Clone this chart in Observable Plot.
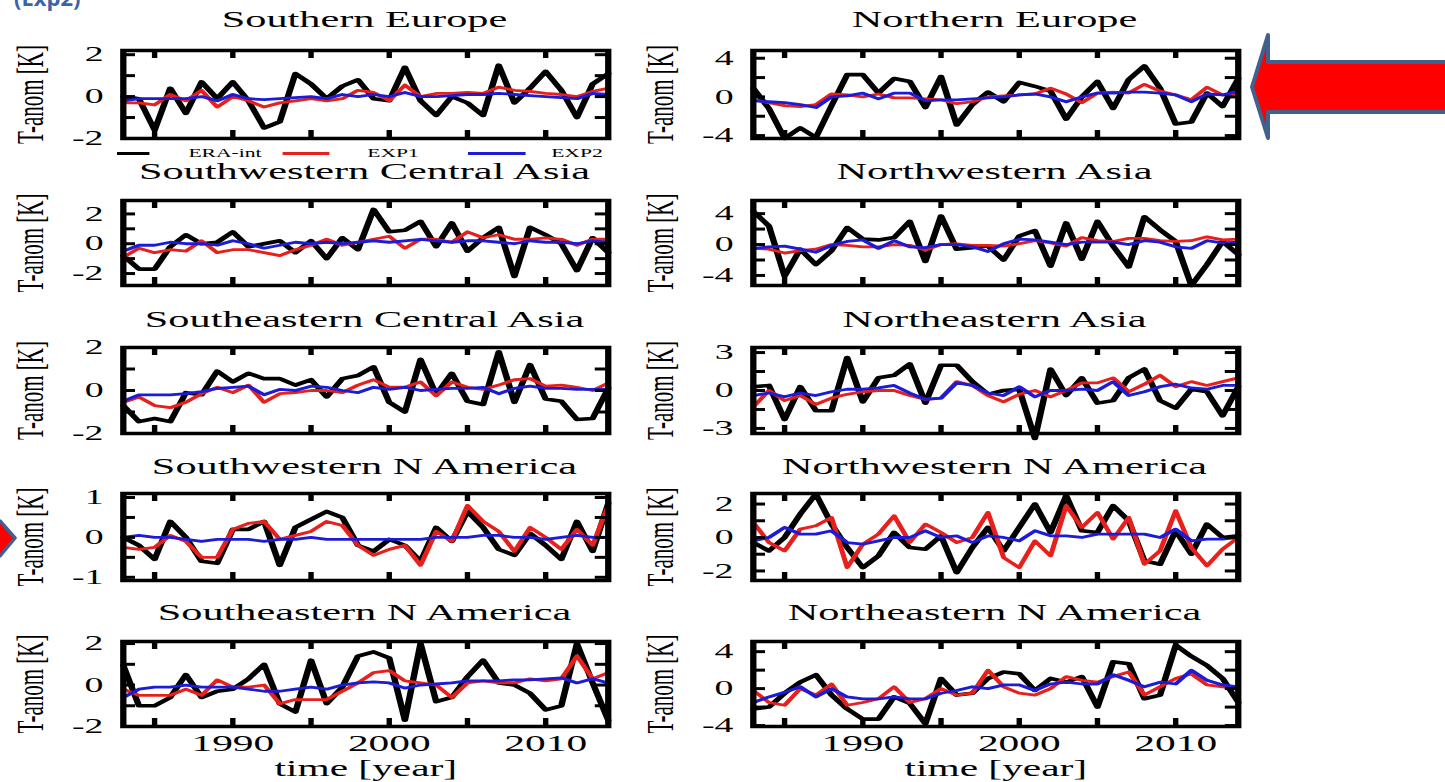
<!DOCTYPE html>
<html>
<head>
<meta charset="utf-8">
<script src="https://cdn.jsdelivr.net/npm/d3@7"></script>
<script src="https://cdn.jsdelivr.net/npm/@observablehq/plot@0.6"></script>
<style>
  html, body { margin: 0; padding: 0; background: #fff; overflow: hidden; }
  #page { position: relative; width: 1445px; height: 782px; overflow: hidden; background: #fff; }
  #stretch { position: absolute; left: 0; top: 0; width: 803px; height: 782px;
             transform: scaleX(1.8); transform-origin: 0 0;
             font-family: "Liberation Serif", "Times New Roman", serif; color: #000; }
  .title { position: absolute; white-space: nowrap; transform: translate(-50%, -50%);
           font-size: 23.5px; line-height: 1; }
  .legtext { position: absolute; white-space: nowrap; transform: translate(-50%, -50%);
             font-size: 12px; line-height: 1; }
  .legline { position: absolute; height: 0; }
  #slidetext { position: absolute; left: 14px; top: -14px; font-family: "Open Sans", sans-serif;
               font-weight: bold; font-size: 22px; line-height: 1; color: #3a63a8; white-space: nowrap; }
</style>
</head>
<body>
<div id="page">
  <div id="stretch"></div>
  <div id="slidetext">(Exp2)</div>
  <svg id="arrows" width="1445" height="782" style="position:absolute;left:0;top:0;overflow:visible">
    <path d="M1450,62 L1268,62 L1268,35 L1252,87 L1268,138 L1268,112 L1450,112 Z"
          fill="#ff0000" stroke="#41608d" stroke-width="4" stroke-linejoin="round"/>
    <path d="M-10,521 L0,521 L15,538 L0,556 L-10,556 Z"
          fill="#ff0000" stroke="#41608d" stroke-width="3.5" stroke-linejoin="round"/>
  </svg>
</div>
<script>
// ---------------- data ----------------
const years = [1983,1984,1985,1986,1987,1988,1989,1990,1991,1992,1993,1994,1995,1996,1997,1998,
               1999,2000,2001,2002,2003,2004,2005,2006,2007,2008,2009,2010,2011,2012,2013,2014];
const seriesNames = ["ERA-int", "EXP1", "EXP2"];
const panelTitles = ["Southern Europe", "Northern Europe",
                     "Southwestern Central Asia", "Northwestern Asia",
                     "Southeastern Central Asia", "Northeastern Asia",
                     "Southwestern N America", "Northwestern N America",
                     "Southeastern N America", "Northeastern N America"];
const yAxisLabel = "T-anom [K]";
const xAxisLabel = "time [year]";
const xTickYears = [1985, 1990, 1995, 2000, 2005, 2010];
const xLabelYears = [1990, 2000, 2010];
const yLabelTicks = [[-2,0,2],[-4,0,4],[-2,0,2],[-4,0,4],[-2,0,2],[-3,0,3],[-1,0,1],[-2,0,2],[-2,0,2],[-4,0,4]];
const yMinorTicks = [[-1,1],[-2,2],[-1,1],[-2,2],[-1,1],[-1.5,1.5],[-0.5,0.5],[-1,1],[-1,1],[-2,2]];
const yDomains = [[-2,2.2],[-4.3,4.8],[-2.8,2.9],[-5.3,5.7],[-2,2],[-3.4,3.4],[-1.08,1.1],[-2.57,2.63],[-2,2.1],[-4.1,5.1]];

// Southern Europe
const seEra  = [0.0,-0.1,-1.6,0.4,-0.8,0.7,-0.1,0.7,-0.2,-1.5,-1.2,1.1,0.6,-0.1,0.5,0.8,-0.1,-0.2,1.4,-0.2,-0.9,0.0,-0.3,-0.9,1.5,-0.3,0.4,1.2,0.3,-1.0,0.6,1.1];
const seExp1 = [-0.3,-0.3,-0.4,0.1,-0.2,0.3,-0.5,0.0,-0.2,-0.5,-0.3,-0.2,-0.1,-0.2,-0.1,0.3,0.2,-0.2,0.55,0.0,0.15,0.15,0.2,0.15,0.45,0.3,0.25,0.15,0.1,0.0,0.25,0.4];
const seExp2 = [-0.2,-0.1,-0.1,-0.1,-0.1,0.0,-0.2,0.1,-0.1,-0.15,-0.1,-0.05,0.0,-0.1,0.1,0.0,0.1,0.0,0.2,0.0,0.0,0.05,0.1,0.1,0.15,0.1,0.05,0.0,-0.05,-0.1,0.15,0.1];
// Northern Europe
const neEra  = [0.9,-1.2,-4.3,-3.2,-4.2,-0.9,2.3,2.3,0.4,1.9,1.6,-1.1,2.1,-2.9,-0.8,0.5,-0.5,1.5,1.1,0.6,-2.3,0.0,1.6,-1.2,1.8,3.2,0.9,-2.8,-2.6,0.4,-1.0,1.9];
const neExp1 = [-0.3,-0.6,-0.9,-1.0,-0.8,0.3,0.2,0.0,0.3,-0.1,-0.1,-0.2,-0.3,-0.7,-0.5,0.0,0.1,0.2,0.3,0.9,0.3,-0.6,0.4,0.5,0.4,1.3,0.6,0.2,-0.3,1.0,0.2,0.3];
const neExp2 = [-0.4,-0.5,-0.6,-0.8,-1.1,0.0,0.1,0.4,-0.2,0.4,0.4,-0.4,-0.3,-0.3,-0.2,-0.1,0.0,0.2,0.3,0.0,-0.5,0.0,0.4,0.4,0.5,0.5,0.4,0.2,-0.5,0.3,0.2,0.6];
// Southwestern Central Asia
const swcaEra  = [-0.8,-1.7,-1.7,-0.2,0.6,0.0,0.1,0.8,-0.2,0.0,0.2,-0.6,0.2,-1.0,0.4,-0.4,2.3,0.8,0.9,1.5,-0.2,1.4,-0.5,0.4,1.1,-2.2,1.1,0.6,0.0,-1.8,0.4,-0.6];
const swcaExp1 = [-0.9,-0.3,-0.6,-0.4,-0.5,0.2,-0.6,-0.4,-0.4,-0.6,-0.8,-0.4,-0.1,0.3,-0.1,0.1,0.3,0.5,-0.3,0.3,0.3,0.1,0.8,0.4,0.6,0.3,0.3,0.4,0.3,-0.1,0.3,0.3];
const swcaExp2 = [-0.5,-0.1,-0.1,0.1,0.0,0.0,-0.1,0.2,0.0,-0.3,-0.1,0.1,0.0,0.1,0.0,0.1,0.2,0.1,0.2,0.3,0.2,0.1,0.2,0.2,0.1,0.0,0.2,0.1,0.1,0.0,0.2,0.1];
// Northwestern Asia
const nwaEra  = [4.3,2.4,-4.1,-0.6,-2.6,-0.8,2.2,0.7,0.6,0.9,3.0,-2.2,3.7,-0.6,-0.4,-0.2,-2.0,1.1,1.8,-2.8,2.8,-1.9,3.0,-0.2,-2.9,3.6,1.9,0.4,-5.3,-2.6,0.4,-1.3];
const nwaExp1 = [-0.5,-0.6,-1.1,-0.8,-0.6,0.0,-0.1,-0.3,-0.3,0.0,-0.1,-0.7,0.0,0.1,-0.1,-0.1,-0.2,0.1,0.5,0.2,-0.2,0.9,0.5,0.4,0.8,0.8,0.5,0.4,0.5,1.0,0.6,0.7];
const nwaExp2 = [-0.5,-0.3,-0.2,-0.6,-1.0,-0.1,0.4,0.6,-0.5,0.5,-0.3,-0.4,0.0,0.0,-0.3,-0.9,0.1,0.7,0.6,0.3,0.0,0.3,0.3,0.3,0.0,0.5,0.3,-0.3,-0.5,0.5,0.2,0.3];
// Southeastern Central Asia
const secaEra  = [-0.7,-1.45,-1.3,-1.45,-0.1,-0.2,0.9,0.4,0.8,0.55,0.55,0.25,0.5,-0.3,0.55,0.7,1.1,-0.55,-1.0,1.45,-0.2,0.8,-0.5,-0.65,1.8,-0.55,1.2,-0.4,-0.5,-1.35,-1.3,0.1];
const secaExp1 = [-0.55,-0.3,-0.7,-0.8,-0.55,-0.15,0.15,-0.1,0.25,-0.55,-0.15,-0.1,0.0,0.0,-0.1,0.25,0.5,0.15,0.15,0.4,-0.25,0.4,0.15,0.05,0.25,0.5,0.55,0.2,0.25,0.15,0.0,0.35];
const secaExp2 = [-0.5,-0.2,-0.2,-0.2,-0.15,-0.05,0.1,0.15,0.2,-0.2,0.05,0.0,0.2,0.15,0.0,-0.1,0.15,0.05,0.15,0.0,0.05,0.1,0.1,0.15,-0.15,0.1,0.2,0.1,0.1,0.05,0.05,0.05];
// Northeastern Asia
const neaEra  = [0.3,0.4,-2.3,0.3,-1.6,-1.6,2.6,-0.9,1.0,1.2,2.1,-1.0,2.0,2.0,0.7,-0.3,0.0,0.1,-3.8,1.7,-0.4,1.0,-1.0,-0.8,1.0,1.7,-0.8,-1.4,0.1,-0.1,-2.0,0.3];
const neaExp1 = [-1.3,0.0,-0.8,-0.4,-1.1,-0.6,-0.3,-0.1,0.0,0.0,-0.4,-0.7,-0.6,0.7,0.4,-0.4,-0.9,-0.3,0.0,-0.5,0.0,0.6,0.6,1.0,-0.1,0.5,1.2,0.3,0.7,0.4,0.7,1.0];
const neaExp2 = [-0.4,-0.2,-0.5,-0.2,-0.4,-0.1,0.1,0.1,0.2,0.4,-0.2,-0.7,-0.6,0.6,0.4,-0.2,-0.4,0.3,-0.5,0.0,0.0,0.1,0.0,0.7,-0.4,-0.1,0.3,0.5,0.2,0.1,0.4,0.4];
// Southwestern N America
const swnaEra  = [0.0,-0.2,-0.55,0.4,0.0,-0.6,-0.65,0.2,0.2,0.4,-0.7,0.25,0.45,0.65,0.5,-0.2,-0.35,-0.05,-0.2,-0.6,0.25,-0.1,0.65,0.25,-0.3,-0.45,0.1,-0.2,-0.55,0.4,-0.35,0.85];
const swnaExp1 = [-0.25,-0.3,-0.25,0.05,-0.1,-0.5,-0.5,0.2,0.35,0.4,-0.05,0.05,0.15,0.4,0.3,-0.2,-0.45,-0.3,-0.2,-0.7,0.15,-0.1,0.8,0.4,0.15,-0.35,0.25,0.0,-0.3,0.2,-0.2,0.8];
const swnaExp2 = [0.0,0.05,0.0,0.0,-0.05,-0.1,-0.05,-0.05,-0.05,-0.1,-0.05,-0.05,0.0,-0.05,-0.05,-0.05,-0.05,-0.05,-0.05,-0.05,0.0,0.0,0.0,0.05,0.05,0.0,0.0,-0.05,0.0,0.05,0.0,0.0];
// Northwestern N America
const nwnaEra  = [-0.3,-0.8,0.0,1.4,2.6,0.8,-0.6,-1.8,-1.1,0.3,-0.6,-0.7,0.1,-2.1,-0.6,0.6,-0.8,0.6,2.0,0.3,2.5,0.4,0.3,1.9,1.0,-1.4,-1.6,0.4,-1.0,0.8,0.0,0.1];
const nwnaExp1 = [0.9,-0.3,-0.8,0.5,0.7,1.2,-1.8,-0.4,0.2,1.3,-0.3,0.8,0.3,-0.3,0.0,1.5,-1.2,-1.8,-0.2,-1.1,1.9,0.6,1.5,-0.1,1.2,-1.6,-0.8,1.6,-0.6,-1.7,-0.7,0.0];
const nwnaExp2 = [-0.2,0.0,0.6,0.2,0.2,0.4,-0.3,-0.4,-0.2,0.0,0.0,0.4,0.0,0.1,-0.3,0.1,0.0,-0.2,0.4,0.1,0.1,0.0,0.2,0.2,0.2,0.2,0.0,0.5,-0.2,-0.1,-0.1,0.0];
// Southeastern N America
const senaEra  = [0.95,-1.0,-1.0,-0.6,0.5,-0.6,-0.3,-0.2,0.3,1.0,-0.9,-1.3,1.2,-0.9,-0.1,1.4,1.6,1.3,-1.7,2.0,-0.8,-0.6,0.4,1.2,0.1,0.0,-0.4,-1.2,-1.0,2.0,0.1,-1.7];
const senaExp1 = [-0.2,-0.5,-0.5,-0.5,-0.2,-0.5,0.25,-0.1,-0.1,0.0,-0.9,-0.7,-0.7,-0.7,-0.3,0.1,0.6,0.7,0.2,0.1,0.0,-0.6,0.1,0.2,0.1,0.1,0.3,0.2,0.3,1.4,0.3,0.6];
const senaExp2 = [-0.6,-0.2,-0.1,-0.1,0.0,-0.1,-0.1,-0.1,-0.2,-0.3,-0.3,-0.2,-0.1,-0.2,0.0,0.1,0.15,0.1,-0.15,0.0,0.05,0.1,0.2,0.2,0.2,0.25,0.25,0.3,0.35,0.1,0.3,0.1];
// Northeastern N America
const nenaEra  = [-2.2,-2.0,-0.5,0.7,1.5,-0.7,-2.2,-3.3,-3.3,-0.9,-1.6,-3.8,1.1,-0.7,-0.5,1.1,1.8,1.6,-0.2,1.1,0.7,1.3,-2.0,2.9,2.7,-1.1,-0.7,4.7,3.5,2.5,1.1,-1.5];
const nenaExp1 = [-0.2,-1.5,-1.8,0.0,-0.7,0.5,-1.8,-1.5,-1.1,0.2,-1.5,-1.1,0.0,-0.7,-0.5,2.0,0.2,-0.5,-0.7,0.0,1.3,0.9,0.7,1.3,1.8,-0.7,0.2,1.1,1.6,0.4,0.2,0.0];
const nenaExp2 = [-1.5,-0.9,-0.4,0.2,-0.9,0.0,-0.9,-1.1,-1.1,-0.9,-1.1,-1.1,-0.5,-0.2,0.2,0.0,0.4,0.4,-0.2,0.5,0.7,0.5,0.5,1.5,0.9,0.2,0.7,0.5,2.0,0.9,0.4,0.2];

const panelSeries = [
  [seEra, seExp1, seExp2], [neEra, neExp1, neExp2],
  [swcaEra, swcaExp1, swcaExp2], [nwaEra, nwaExp1, nwaExp2],
  [secaEra, secaExp1, secaExp2], [neaEra, neaExp1, neaExp2],
  [swnaEra, swnaExp1, swnaExp2], [nwnaEra, nwnaExp1, nwnaExp2],
  [senaEra, senaExp1, senaExp2], [nenaEra, nenaExp1, nenaExp2]
];

// ---------------- styling / layout ----------------
const seriesColors = ["#000000", "#e8201c", "#1c1cd6"];
const lineWidths = [3.6, 2.8, 2.8];
const S = 1.8;                              // horizontal stretch of the original figure
const colLeft = [122, 752], colRight = [607, 1237];        // frame edges (page px)
const rowTop = [50, 200, 347, 493, 641], rowBottom = [138, 285, 433, 580, 726];
const titleY = [20, 172, 320, 467, 613];

const stage = document.getElementById("stretch");

function makePanel(p) {
  const r = Math.floor(p / 2), c = p % 2;
  const isBottom = r === 4;
  const FW = (colRight[c] - colLeft[c]) / S;
  const FH = rowBottom[r] - rowTop[r];
  const ML = 70, MR = 10, MT = 10, MB = isBottom ? 56 : 10;
  const table = years.flatMap((yr, i) =>
    seriesNames.map((s, k) => ({year: yr, series: s, value: panelSeries[p][k][i]})));
  const yTicks = [...yLabelTicks[p], ...yMinorTicks[p]];
  const marks = [
    ...seriesNames.map((s, k) => Plot.line(table.filter(d => d.series === s),
        {x: "year", y: "value", stroke: seriesColors[k], strokeWidth: lineWidths[k]})),
    Plot.frame({stroke: "black", strokeWidth: 3.5}),
    Plot.tickX(xTickYears, {x: d => d, insetTop: FH - 8, stroke: "black", strokeWidth: 3}),
    Plot.tickX(xTickYears, {x: d => d, insetBottom: FH - 8, stroke: "black", strokeWidth: 3}),
    Plot.tickY(yTicks, {y: d => d, insetRight: FW - 7, stroke: "black", strokeWidth: 3}),
    Plot.tickY(yTicks, {y: d => d, insetLeft: FW - 7, stroke: "black", strokeWidth: 3}),
    Plot.axisY({ticks: yLabelTicks[p], tickSize: 0, tickPadding: 11, tickFormat: d => String(d),
                fontSize: 21, label: yAxisLabel, labelAnchor: "center", labelArrow: "none", labelOffset: 59.5})
  ];
  if (isBottom) {
    marks.push(Plot.axisX({ticks: xLabelYears, tickSize: 0, tickPadding: 8, tickFormat: d => String(d),
                fontSize: 23, label: xAxisLabel, labelAnchor: "center", labelArrow: "none", labelOffset: 50}));
  }
  const svg = Plot.plot({
    width: ML + FW + MR, height: MT + FH + MB,
    marginLeft: ML, marginRight: MR, marginTop: MT, marginBottom: MB,
    x: {domain: [1983, 2014], axis: null},
    y: {domain: yDomains[p], axis: null},
    style: {fontFamily: "'Liberation Serif', 'Times New Roman', serif", color: "black",
            background: "transparent", overflow: "visible"},
    marks
  });
  svg.style.position = "absolute";
  svg.style.left = (colLeft[c] / S - ML) + "px";
  svg.style.top = (rowTop[r] - MT) + "px";
  svg.style.maxWidth = "none";
  svg.style.overflow = "visible";
  stage.appendChild(svg);

  const t = document.createElement("div");
  t.className = "title";
  t.textContent = panelTitles[p];
  t.style.left = ((colLeft[c] + colRight[c]) / 2 / S) + "px";
  t.style.top = titleY[r] + "px";
  stage.appendChild(t);
}

for (let p = 0; p < panelTitles.length; p++) makePanel(p);

// legend under the first panel
const legLineX = [[117, 150], [283, 330], [468, 525]];
const legTextX = [225, 393, 577];
const legY = 153;
seriesNames.forEach((s, k) => {
  const ln = document.createElement("div");
  ln.className = "legline";
  ln.style.left = (legLineX[k][0] / S) + "px";
  ln.style.width = ((legLineX[k][1] - legLineX[k][0]) / S) + "px";
  ln.style.top = (legY - 1.5) + "px";
  ln.style.borderTop = "3px solid " + seriesColors[k];
  stage.appendChild(ln);
  const tx = document.createElement("div");
  tx.className = "legtext";
  tx.textContent = s;
  tx.style.left = (legTextX[k] / S) + "px";
  tx.style.top = legY + "px";
  stage.appendChild(tx);
});
</script>
</body>
</html>
